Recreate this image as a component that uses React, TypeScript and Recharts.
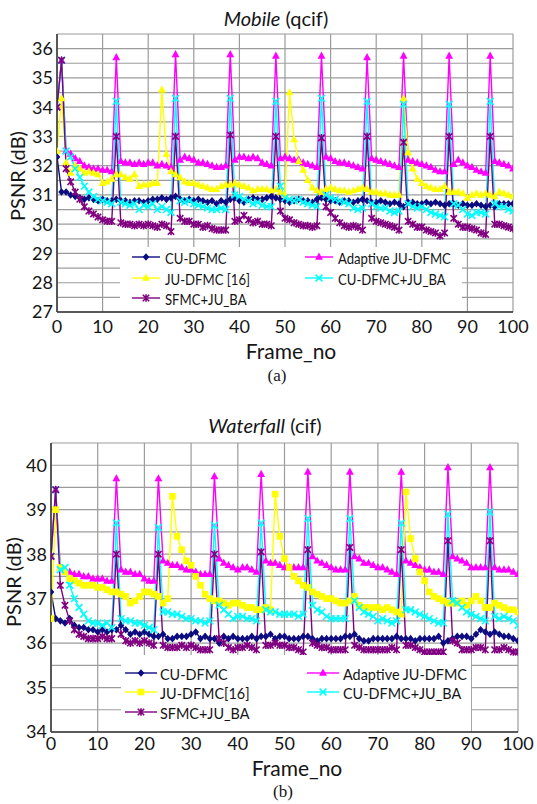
import React from 'react';
import { LineChart, Line, XAxis, YAxis, CartesianGrid } from 'recharts';

// frame numbers (x axis)
const FRAMES = [
  0, 1, 2, 3, 4, 5, 6, 7, 8, 9,
  10, 11, 12, 13, 14, 15, 16, 17, 18, 19,
  20, 21, 22, 23, 24, 25, 26, 27, 28, 29,
  30, 31, 32, 33, 34, 35, 36, 37, 38, 39,
  40, 41, 42, 43, 44, 45, 46, 47, 48, 49,
  50, 51, 52, 53, 54, 55, 56, 57, 58, 59,
  60, 61, 62, 63, 64, 65, 66, 67, 68, 69,
  70, 71, 72, 73, 74, 75, 76, 77, 78, 79,
  80, 81, 82, 83, 84, 85, 86, 87, 88, 89,
  90, 91, 92, 93, 94, 95, 96, 97, 98, 99,
  100,
];

const FRAME_TICKS = [0, 10, 20, 30, 40, 50, 60, 70, 80, 90, 100];
const MOBILE_Y_TICKS = [27, 27.5, 28, 28.5, 29, 29.5, 30, 30.5, 31, 31.5, 32, 32.5, 33, 33.5, 34, 34.5, 35, 35.5, 36, 36.5];
const WATERFALL_Y_TICKS = [34, 34.5, 35, 35.5, 36, 36.5, 37, 37.5, 38, 38.5, 39, 39.5, 40, 40.5];

// (a) Mobile (qcif)
const mobileCuDfmc = [
  32.3, 31.1, 31.1, 31.0, 30.95, 30.9, 30.85, 30.9, 30.85, 30.8,
  30.85, 30.8, 30.8, 30.85, 30.8, 30.8, 30.75, 30.8, 30.8, 30.75,
  30.8, 30.85, 30.85, 30.9, 30.85, 30.9, 30.95, 30.85, 30.8, 30.85,
  30.8, 30.85, 30.8, 30.75, 30.8, 30.7, 30.8, 30.75, 30.85, 30.9,
  30.8, 30.75, 30.85, 30.9, 30.85, 30.85, 30.9, 30.95, 30.9, 30.85,
  30.8, 30.75, 30.8, 30.85, 30.8, 30.8, 30.75, 30.85, 30.9, 30.85,
  30.8, 30.8, 30.75, 30.8, 30.8, 30.75, 30.8, 30.85, 30.8, 30.75,
  30.75, 30.8, 30.75, 30.7, 30.75, 30.7, 30.6, 30.75, 30.75, 30.7,
  30.7, 30.75, 30.7, 30.75, 30.7, 30.65, 30.7, 30.7, 30.65, 30.7,
  30.65, 30.65, 30.7, 30.65, 30.6, 30.65, 30.6, 30.7, 30.7, 30.7,
  30.7,
];
const mobileAdaptive = [
  34.0, 35.6, 32.5, 32.4, 32.25, 32.15, 32.0, 31.95, 31.9, 31.9,
  31.85, 31.85, 31.8, 35.7, 32.15, 32.1, 32.1, 32.05, 32.1, 32.05,
  32.1, 32.1, 32.0, 32.05, 32.0, 31.95, 35.8, 32.2, 32.3, 32.25,
  32.2, 32.1, 32.1, 32.05, 32.0, 31.95, 31.95, 32.0, 35.8, 32.2,
  32.3, 32.3, 32.25, 32.3, 32.25, 32.1, 32.05, 32.0, 35.75, 32.25,
  32.3, 32.25, 32.2, 32.2, 32.1, 32.05, 32.0, 31.95, 35.75, 32.3,
  32.25, 32.15, 32.1, 32.1, 32.05, 32.0, 31.95, 31.9, 35.7, 32.25,
  32.2, 32.15, 32.1, 32.05, 32.0, 31.95, 35.75, 32.2, 32.15, 32.1,
  32.05, 32.0, 31.95, 31.85, 31.8, 31.8, 35.75, 32.05, 32.2, 32.1,
  32.0, 31.95, 31.85, 31.8, 31.75, 35.75, 32.15, 32.1, 32.05, 32.0,
  31.9,
];
const mobileJuDfmc = [
  32.5, 34.3, 32.1, 31.75, 32.0, 31.9, 31.75, 31.8, 31.75, 31.7,
  31.4, 31.45, 31.55, 31.7, 31.7, 31.6, 31.55, 31.7, 31.3, 31.35,
  31.35, 31.4, 31.4, 34.6, 32.4, 31.8, 31.7, 31.6, 31.45, 31.4,
  31.4, 31.35, 31.3, 31.25, 31.2, 31.2, 31.3, 31.35, 31.35, 31.4,
  31.35, 31.3, 31.25, 31.15, 31.2, 31.2, 31.2, 31.15, 31.2, 31.1,
  31.0, 34.5, 32.9, 32.15, 31.85, 31.5, 31.25, 31.15, 31.1, 31.2,
  31.25, 31.2, 31.15, 31.15, 31.1, 31.15, 31.2, 31.25, 31.2, 31.1,
  31.1, 31.05, 31.05, 31.0, 31.0, 31.0, 34.3, 32.45, 31.9, 31.55,
  31.4, 31.3, 31.25, 31.2, 31.2, 31.3, 31.1, 31.1, 31.1, 31.05,
  30.9, 31.0, 31.05, 31.0, 31.05, 31.0, 30.95, 31.1, 31.05, 31.0,
  30.95,
];
const mobileCuDfmcBa = [
  34.0, 35.6, 32.5, 32.3, 31.9, 31.6, 31.3, 31.1, 30.95, 30.85,
  30.8, 30.75, 30.7, 34.2, 30.75, 30.7, 30.65, 30.7, 30.5, 30.65,
  30.6, 30.7, 30.5, 30.6, 30.5, 30.4, 34.3, 30.8, 30.75, 30.8,
  30.7, 30.65, 30.6, 30.55, 30.5, 30.5, 30.55, 30.5, 34.3, 31.0,
  30.95, 30.85, 30.8, 30.7, 30.75, 30.65, 30.6, 30.6, 34.2, 31.3,
  30.9, 30.85, 30.8, 30.85, 30.75, 30.7, 30.65, 30.6, 34.3, 31.0,
  30.9, 30.85, 30.8, 30.75, 30.7, 30.55, 30.5, 30.55, 34.2, 30.7,
  30.6, 30.55, 30.55, 30.45, 30.4, 30.45, 34.1, 30.7, 30.6, 30.55,
  30.6, 30.5, 30.4, 30.35, 30.3, 30.25, 34.1, 30.7, 30.65, 30.5,
  30.35, 30.3, 30.4, 30.4, 30.35, 34.2, 30.7, 30.6, 30.6, 30.5,
  30.45,
];
const mobileSfmcBa = [
  34.0, 35.6, 31.9, 31.45, 31.1, 30.85, 30.6, 30.45, 30.35, 30.25,
  30.15, 30.1, 30.1, 33.0, 30.05, 30.0, 30.0, 29.95, 30.0, 29.95,
  30.0, 29.95, 29.9, 30.0, 29.95, 29.75, 33.0, 30.2, 30.1, 30.1,
  30.0, 30.0, 29.9, 29.95, 29.85, 29.8, 29.8, 29.8, 33.05, 30.1,
  30.15, 30.3, 30.15, 30.05, 30.1, 30.0, 30.0, 29.95, 33.0, 30.45,
  30.2, 30.15, 30.05, 30.0, 29.95, 29.95, 29.9, 29.95, 32.95, 30.6,
  30.4, 30.2, 30.05, 29.95, 29.9, 29.95, 29.9, 29.8, 33.0, 30.2,
  30.1, 30.05, 30.0, 29.95, 29.9, 29.8, 32.8, 30.1, 30.0, 29.9,
  29.9, 29.8, 29.75, 29.7, 29.6, 29.7, 33.0, 30.2, 30.0, 29.9,
  29.9, 29.85, 29.8, 29.7, 29.65, 33.0, 30.0, 30.0, 29.95, 29.9,
  29.85,
];

// (b) Waterfall (cif)
const waterfallCuDfmc = [
  37.15, 36.55, 36.5, 36.45, 36.55, 36.4, 36.35, 36.35, 36.3, 36.3,
  36.25, 36.3, 36.25, 36.3, 36.3, 36.4, 36.3, 36.2, 36.25, 36.2,
  36.25, 36.2, 36.15, 36.15, 36.2, 36.1, 36.1, 36.15, 36.15, 36.15,
  36.2, 36.25, 36.1, 36.15, 36.1, 36.1, 36.0, 36.15, 36.1, 36.15,
  36.1, 36.1, 36.1, 36.15, 36.1, 36.15, 36.15, 36.2, 36.1, 36.15,
  36.15, 36.1, 36.1, 36.1, 36.15, 36.15, 36.1, 36.05, 36.1, 36.1,
  36.1, 36.1, 36.1, 36.15, 36.15, 36.2, 36.1, 36.05, 36.05, 36.1,
  36.1, 36.1, 36.1, 36.1, 36.15, 36.1, 36.1, 36.1, 36.05, 36.1,
  36.1, 36.1, 36.1, 36.15, 36.0, 36.05, 36.1, 36.15, 36.15, 36.15,
  36.1, 36.2, 36.3, 36.25, 36.2, 36.25, 36.2, 36.15, 36.15, 36.1,
  36.05,
];
const waterfallAdaptive = [
  37.95, 39.45, 37.7, 37.65, 37.6, 37.55, 37.55, 37.5, 37.5, 37.45,
  37.45, 37.45, 37.4, 37.4, 39.7, 37.65, 37.6, 37.6, 37.55, 37.55,
  37.45, 37.4, 37.4, 39.7, 37.85, 37.8, 37.75, 37.75, 37.7, 37.65,
  37.65, 37.6, 37.55, 37.55, 37.55, 39.75, 37.9, 37.8, 37.75, 37.7,
  37.65, 37.7, 37.7, 37.65, 37.6, 39.8, 37.85, 37.8, 37.8, 37.75,
  37.7, 37.7, 37.7, 37.7, 37.7, 39.85, 37.95, 37.85, 37.8, 37.75,
  37.7, 37.65, 37.65, 37.65, 39.85, 37.95, 37.9, 37.8, 37.8, 37.75,
  37.7, 37.7, 37.65, 37.6, 37.55, 39.85, 37.85, 37.8, 37.75, 37.7,
  37.65, 37.65, 37.6, 37.6, 37.55, 39.95, 37.95, 37.9, 37.85, 37.8,
  37.7, 37.7, 37.7, 37.7, 39.95, 37.7, 37.65, 37.65, 37.65, 37.6,
  37.55,
];
const waterfallJuDfmc = [
  36.55, 39.0, 37.7, 37.6, 37.45, 37.4, 37.35, 37.3, 37.3, 37.3,
  37.25, 37.25, 37.2, 37.15, 37.15, 37.1, 37.05, 36.9, 36.95, 37.05,
  37.15, 37.15, 37.1, 37.05, 36.9, 37.0, 39.3, 38.4, 38.1, 37.85,
  37.75, 37.5, 37.3, 37.1, 37.0, 36.95, 36.95, 36.9, 36.85, 36.9,
  36.9, 36.85, 36.8, 36.8, 36.75, 36.75, 36.8, 36.75, 39.35, 38.4,
  37.9, 37.7, 37.5, 37.4, 37.3, 37.25, 37.15, 37.1, 37.05, 37.0,
  37.0, 36.95, 36.9, 36.9, 36.95, 37.05, 36.85, 36.8, 36.8, 36.8,
  36.8, 36.75, 36.8, 36.75, 36.7, 36.65, 39.4, 38.35, 37.9, 37.6,
  37.4, 37.15, 37.05, 37.0, 36.95, 36.9, 36.9, 36.9, 36.95, 36.85,
  36.95, 37.05, 36.95, 36.8, 36.8, 36.9, 36.85, 36.8, 36.75, 36.75,
  36.7,
];
const waterfallCuDfmcBa = [
  37.95, 39.45, 37.65, 37.7, 37.3, 37.0, 36.8, 36.65, 36.5, 36.45,
  36.45, 36.4, 36.45, 36.35, 38.7, 36.55, 36.5, 36.5, 36.45, 36.45,
  36.4, 36.35, 36.3, 38.6, 36.7, 36.7, 36.65, 36.65, 36.6, 36.55,
  36.55, 36.5, 36.5, 36.45, 36.5, 38.65, 36.85, 36.75, 36.65, 36.55,
  36.6, 36.6, 36.55, 36.55, 36.5, 38.7, 36.75, 36.7, 36.7, 36.65,
  36.65, 36.65, 36.65, 36.6, 36.65, 38.8, 36.85, 36.75, 36.7, 36.6,
  36.55, 36.55, 36.55, 36.55, 38.8, 36.95, 36.8, 36.7, 36.65, 36.6,
  36.5, 36.55, 36.5, 36.45, 36.5, 38.7, 36.75, 36.75, 36.7, 36.65,
  36.6, 36.55, 36.5, 36.45, 36.45, 38.9, 36.95, 36.9, 36.8, 36.7,
  36.65, 36.6, 36.55, 36.5, 38.95, 36.6, 36.55, 36.6, 36.55, 36.5,
  36.4,
];
const waterfallSfmcBa = [
  37.95, 39.45, 37.3, 36.85, 36.5, 36.3, 36.2, 36.15, 36.1, 36.1,
  36.1, 36.15, 36.1, 36.1, 38.0, 36.2, 36.05, 36.0, 36.05, 36.0,
  36.05, 36.0, 35.95, 38.0, 35.95, 35.9, 35.9, 35.9, 35.95, 35.9,
  35.95, 35.9, 35.85, 35.85, 35.85, 38.0, 36.1, 36.0, 35.9, 35.85,
  35.9, 35.9, 35.95, 35.9, 35.85, 38.05, 35.95, 35.95, 36.0, 35.95,
  35.95, 35.9, 35.9, 35.85, 35.8, 38.1, 36.0, 35.95, 35.9, 35.9,
  35.85, 35.85, 35.85, 35.85, 38.15, 35.95, 35.9, 35.85, 35.85, 35.85,
  35.85, 35.85, 35.85, 35.9, 35.85, 38.1, 35.95, 35.95, 35.9, 35.85,
  35.8, 35.8, 35.8, 35.8, 35.8, 38.3, 36.05, 36.0, 35.85, 35.85,
  35.85, 35.9, 35.9, 35.85, 38.3, 35.85, 35.85, 35.9, 35.85, 35.8,
  35.8,
];

const FONT = 'Lato, "Noto Sans", sans-serif';
const TEXT = '#151515';
const NAVY = '#0c0c80';
const MAGENTA = '#ff00ff';
const YELLOW = '#ffff00';
const CYAN = '#00ffff';
const PURPLE = '#800080';

type Shape = 'diamond' | 'triangle' | 'square' | 'x' | 'star';

function Marker({ shape, color, cx, cy }: { shape: Shape; color: string; cx?: number; cy?: number }) {
  if (cx == null || cy == null || isNaN(cx) || isNaN(cy)) return null;
  switch (shape) {
    case 'diamond':
      return <path d={`M${cx},${cy - 3.8}L${cx + 3.3},${cy}L${cx},${cy + 3.8}L${cx - 3.3},${cy}Z`} fill={color} />;
    case 'triangle':
      return <path d={`M${cx},${cy - 4.4}L${cx + 3.9},${cy + 2.8}L${cx - 3.9},${cy + 2.8}Z`} fill={color} />;
    case 'square':
      return <rect x={cx - 3.3} y={cy - 3.3} width={6.6} height={6.6} fill={color} />;
    case 'x':
      return (
        <path
          d={`M${cx - 3.4},${cy - 3.4}L${cx + 3.4},${cy + 3.4}M${cx - 3.4},${cy + 3.4}L${cx + 3.4},${cy - 3.4}`}
          stroke={color}
          strokeWidth={1.6}
          fill="none"
        />
      );
    default:
      return (
        <path
          d={`M${cx - 3.2},${cy - 3.2}L${cx + 3.2},${cy + 3.2}M${cx - 3.2},${cy + 3.2}L${cx + 3.2},${cy - 3.2}M${cx},${cy - 3.8}L${cx},${cy + 3.8}`}
          stroke={color}
          strokeWidth={1.6}
          fill="none"
        />
      );
  }
}

interface SeriesDef {
  key: string;
  name: string;
  color: string;
  shape: Shape;
  values: number[];
}

const mobileSeries: SeriesDef[] = [
  { key: 'cu', name: 'CU-DFMC', color: NAVY, shape: 'diamond', values: mobileCuDfmc },
  { key: 'ad', name: 'Adaptive JU-DFMC', color: MAGENTA, shape: 'triangle', values: mobileAdaptive },
  { key: 'ju', name: 'JU-DFMC [16]', color: YELLOW, shape: 'triangle', values: mobileJuDfmc },
  { key: 'cuba', name: 'CU-DFMC+JU_BA', color: CYAN, shape: 'x', values: mobileCuDfmcBa },
  { key: 'sf', name: 'SFMC+JU_BA', color: PURPLE, shape: 'star', values: mobileSfmcBa },
];

const waterfallSeries: SeriesDef[] = [
  { key: 'cu', name: 'CU-DFMC', color: NAVY, shape: 'diamond', values: waterfallCuDfmc },
  { key: 'ad', name: 'Adaptive JU-DFMC', color: MAGENTA, shape: 'triangle', values: waterfallAdaptive },
  { key: 'ju', name: 'JU-DFMC[16]', color: YELLOW, shape: 'square', values: waterfallJuDfmc },
  { key: 'cuba', name: 'CU-DFMC+JU_BA', color: CYAN, shape: 'x', values: waterfallCuDfmcBa },
  { key: 'sf', name: 'SFMC+JU_BA', color: PURPLE, shape: 'star', values: waterfallSfmcBa },
];

function buildRows(series: SeriesDef[]) {
  return FRAMES.map((f, i) => {
    const row: Record<string, number> = { frame: f };
    series.forEach((s) => {
      row[s.key] = s.values[i];
    });
    return row;
  });
}

const intLabel = (v: number) => (Number.isInteger(v) ? String(v) : '');

const centered = (x: number, y: number, extra: React.CSSProperties = {}): React.CSSProperties => ({
  position: 'absolute',
  left: x,
  top: y,
  transform: 'translate(-50%, -50%)',
  whiteSpace: 'nowrap',
  color: TEXT,
  fontFamily: FONT,
  ...extra,
});

// legend row: line sample with marker, then a slightly condensed label
function LegendItem({ s, x, y, lineLen, gap, squeeze }: { s: SeriesDef; x: number; y: number; lineLen: number; gap: number; squeeze: number }) {
  return (
    <div style={{ position: 'absolute', left: x, top: y - 10, height: 20, display: 'flex', alignItems: 'center' }}>
      <svg width={lineLen} height={20}>
        <line x1={0} y1={10} x2={lineLen} y2={10} stroke={s.color} strokeWidth={1.4} />
        <Marker shape={s.shape} color={s.color} cx={lineLen / 2} cy={10} />
      </svg>
      <span
        style={{
          marginLeft: gap,
          fontFamily: FONT,
          fontSize: 16,
          color: TEXT,
          display: 'inline-block',
          whiteSpace: 'nowrap',
          transform: `scaleX(${squeeze})`,
          transformOrigin: 'left center',
        }}
      >
        {s.name}
      </span>
    </div>
  );
}

interface PanelProps {
  series: SeriesDef[];
  top: number;
  height: number;
  margin: { top: number; right: number; bottom: number; left: number };
  yDomain: [number, number];
  yTicks: number[];
  xTickMargin: number;
}

function Panel({ series, top, height, margin, yDomain, yTicks, xTickMargin }: PanelProps) {
  const rows = buildRows(series);
  return (
    <div style={{ position: 'absolute', left: 0, top }}>
      <LineChart width={537} height={height} data={rows} margin={margin}>
        <CartesianGrid stroke="#9c9c9c" strokeWidth={1.2} />
        <XAxis
          dataKey="frame"
          type="number"
          domain={[0, 100]}
          ticks={FRAME_TICKS}
          interval={0}
          height={28}
          tickSize={0}
          tickMargin={xTickMargin}
          axisLine={{ stroke: '#333', strokeWidth: 1.5 }}
          tick={{ fontSize: 18, fill: TEXT, fontFamily: FONT }}
          allowDataOverflow
        />
        <YAxis
          type="number"
          domain={yDomain}
          ticks={yTicks}
          interval={0}
          width={50}
          tickSize={0}
          tickMargin={4}
          tickFormatter={intLabel}
          axisLine={{ stroke: '#333', strokeWidth: 1.5 }}
          tick={{ fontSize: 18, fill: TEXT, fontFamily: FONT }}
          allowDataOverflow
        />
        {series.map((s) => (
          <Line
            key={s.key}
            dataKey={s.key}
            name={s.name}
            stroke={s.color}
            strokeWidth={1.4}
            type="linear"
            isAnimationActive={false}
            activeDot={false}
            dot={(p: any) => <Marker key={`${s.key}-${p.index}`} shape={s.shape} color={s.color} cx={p.cx} cy={p.cy} />}
          />
        ))}
      </LineChart>
    </div>
  );
}

export default function App() {
  return (
    <div style={{ position: 'absolute', left: 0, top: 0, width: 537, height: 804, background: '#fff', overflow: 'hidden' }}>
      {/* (a) Mobile */}
      <div style={centered(276, 18, { fontSize: 20 })}>
        <i>Mobile</i> (qcif)
      </div>
      <Panel
        series={mobileSeries}
        top={0}
        height={340}
        margin={{ top: 34, right: 24, bottom: 0, left: 7 }}
        yDomain={[27, 36.5]}
        yTicks={MOBILE_Y_TICKS}
        xTickMargin={8}
      />
      <div style={centered(17, 176, { fontSize: 20, transform: 'translate(-50%, -50%) rotate(-90deg)' })}>PSNR (dB)</div>
      <div style={{ position: 'absolute', left: 120, top: 247, width: 342, height: 64, background: '#fff' }} />
      <LegendItem s={mobileSeries[0]} x={132} y={257} lineLen={28} gap={5} squeeze={0.82} />
      <LegendItem s={mobileSeries[2]} x={132} y={278} lineLen={28} gap={5} squeeze={0.82} />
      <LegendItem s={mobileSeries[4]} x={132} y={298} lineLen={28} gap={5} squeeze={0.82} />
      <LegendItem s={mobileSeries[1]} x={305} y={257} lineLen={28} gap={5} squeeze={0.82} />
      <LegendItem s={mobileSeries[3]} x={305} y={278} lineLen={28} gap={5} squeeze={0.82} />
      <div style={centered(291, 350, { fontSize: 21 })}>Frame_no</div>
      <div style={centered(277, 376, { fontSize: 17, fontFamily: '"Liberation Serif", "DejaVu Serif", serif' })}>(a)</div>

      {/* (b) Waterfall */}
      <div style={centered(265, 425, { fontSize: 20 })}>
        <i>Waterfall</i> (cif)
      </div>
      <Panel
        series={waterfallSeries}
        top={400}
        height={360}
        margin={{ top: 43, right: 19, bottom: 0, left: 1 }}
        yDomain={[34, 40.5]}
        yTicks={WATERFALL_Y_TICKS}
        xTickMargin={5}
      />
      <div style={centered(13, 582, { fontSize: 20, transform: 'translate(-50%, -50%) rotate(-90deg)' })}>PSNR (dB)</div>
      <div style={{ position: 'absolute', left: 121, top: 655, width: 350, height: 76, background: '#fff' }} />
      <LegendItem s={waterfallSeries[0]} x={125} y={673} lineLen={32} gap={3} squeeze={0.9} />
      <LegendItem s={waterfallSeries[2]} x={125} y={692} lineLen={32} gap={3} squeeze={0.9} />
      <LegendItem s={waterfallSeries[4]} x={125} y={712} lineLen={32} gap={3} squeeze={0.9} />
      <LegendItem s={waterfallSeries[1]} x={307} y={673} lineLen={32} gap={4} squeeze={0.9} />
      <LegendItem s={waterfallSeries[3]} x={307} y={692} lineLen={32} gap={4} squeeze={0.9} />
      <div style={centered(297, 767, { fontSize: 21 })}>Frame_no</div>
      <div style={centered(283, 792, { fontSize: 17, fontFamily: '"Liberation Serif", "DejaVu Serif", serif' })}>(b)</div>
    </div>
  );
}
